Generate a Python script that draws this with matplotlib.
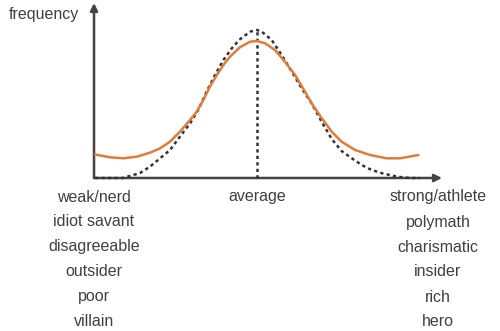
import matplotlib
matplotlib.use("Agg")
import matplotlib.pyplot as plt

# trait score vs frequency (arbitrary units)
normal_x = [46.0, 55.3, 61.0, 64.3, 67.7, 71.0, 74.3, 77.7, 80.4, 83.2, 86.0,
            88.8, 91.6, 94.3, 97.7, 100.0, 101.6, 104.9, 108.2, 111.6, 114.9,
            118.2, 121.6, 124.9, 128.2, 131.6, 134.9, 138.2, 142.0, 146.7,
            151.0, 154.3]
normal_y = [0, 0, 5, 11.3, 19.7, 28, 41.3, 54.7, 68, 86.3, 103,
            118, 129.7, 138.7, 146.3, 148, 146.3, 138, 123, 106.3, 89.7,
            74.7, 56, 39, 27, 19.7, 13, 8, 4.5, 1.3,
            0, 0]

story_x = [46.0, 51.0, 55.4, 59.9, 64.3, 67.7, 71.0, 74.3, 77.7, 79.9, 82.1,
           84.3, 86.6, 88.8, 91.0, 94.3, 97.7, 100.0, 102.7, 106.0, 109.3,
           112.7, 116.0, 118.2, 121.6, 124.9, 128.2, 132.7, 137.7, 143.2,
           147.7, 153.8]
story_y = [23.5, 20.7, 19.7, 21.3, 25.3, 29.7, 36.3, 46.3, 58, 66.3, 78,
           91.3, 103, 113, 121.3, 130.7, 136.3, 137, 134.7, 128, 116.3,
           103, 86.3, 74.7, 59.7, 46.3, 36.3, 28, 23, 19.7,
           19.7, 23]

left_labels = ['weak/nerd', 'idiot savant', 'disagreeable', 'outsider', 'poor', 'villain']
right_labels = ['strong/athlete', 'polymath', 'charismatic', 'insider', 'rich', 'hero']
mid_label = 'average'
mean_score = 100

plt.rcParams['font.family'] = ['Liberation Sans', 'DejaVu Sans']
txt = '#404040'
axc = '#444444'

fig = plt.figure(figsize=(5.0, 3.31), dpi=100)
ax = fig.add_axes([0, 0, 1, 1])
ax.set_xlim(14.33, 181)
ax.set_ylim(-153, 178)
ax.axis('off')

# axes drawn as arrows
x0 = 45.67
arrow = dict(arrowstyle='-|>', color=axc, lw=1.8, mutation_scale=11, shrinkA=0, shrinkB=0)
ax.annotate('', xy=(x0, 175), xytext=(x0, 0), arrowprops=arrow)
ax.annotate('', xy=(161.67, 0), xytext=(x0, 0), arrowprops=arrow)

# curves
dots = (0, (1.3, 1.3))
ax.plot(normal_x, normal_y, color='#333333', lw=1.8, ls=dots, zorder=3)
ax.plot([mean_score, mean_score], [0, max(normal_y)], color='#333333', lw=1.8, ls=dots, zorder=3)
ax.plot(story_x, story_y, color='#e07b39', lw=1.8, zorder=4,
        solid_joinstyle='round', solid_capstyle='round')

fs = 11.5
ax.text(29, 163, 'frequency', ha='center', va='center', fontsize=fs, color=txt)

for i, (l, r) in enumerate(zip(left_labels, right_labels)):
    y = -19 - 25 * i
    ax.text(45.67, y, l, ha='center', va='center', fontsize=fs, color=txt)
    ax.text(160.33, y, r, ha='center', va='center', fontsize=fs, color=txt)
ax.text(mean_score, -19, mid_label, ha='center', va='center', fontsize=fs, color=txt)

fig.savefig('out.png', dpi=100, facecolor='white')
